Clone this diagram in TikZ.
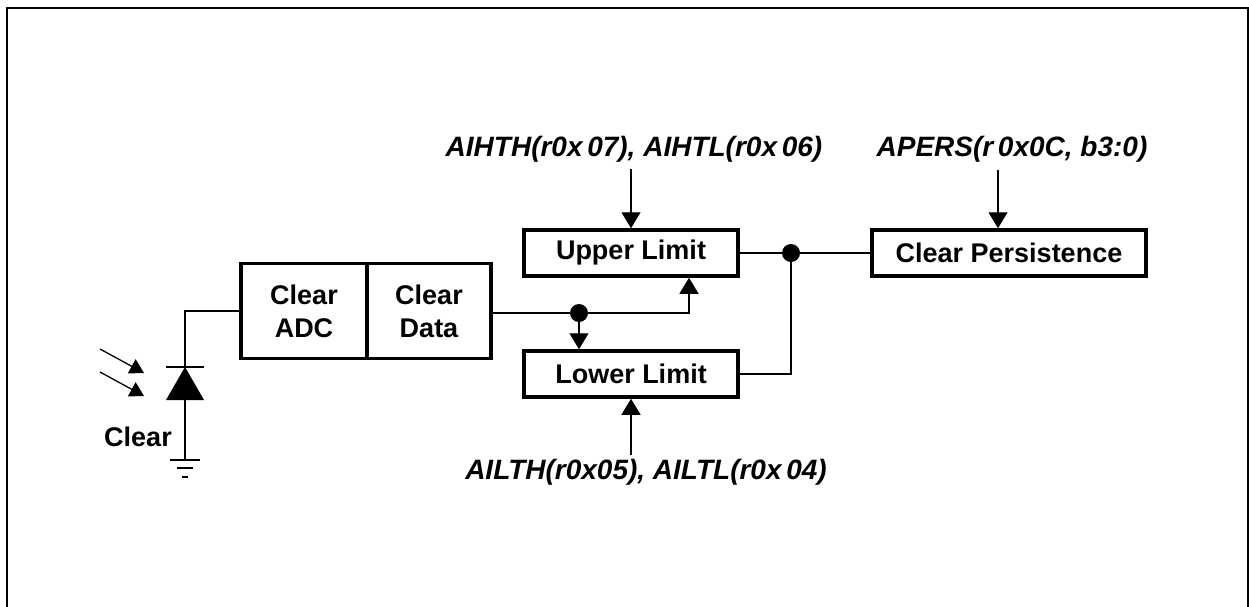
\documentclass[tikz,border=0pt]{standalone}
\usepackage{fontspec}
\setmainfont{Liberation Sans}
\usetikzlibrary{arrows.meta}
\tikzset{
  blk/.style={draw, line width=3.5pt, minimum height=46pt, inner sep=0pt,
    font=\bfseries\fontsize{27}{33}\selectfont, align=center},
  lbl/.style={inner sep=0pt, font=\bfseries\itshape\fontsize{28}{33}\selectfont},
  wire/.style={line width=1.3pt},
  arr/.style={wire, -{Triangle[length=16pt,width=19pt]}},
  lightarr/.style={wire, -{Triangle[length=14pt,width=16pt]}},
  dot/.style={circle, fill, inner sep=0pt, minimum size=18pt},
}
\begin{document}
\begin{tikzpicture}[x=1pt, y=-1pt]
  \useasboundingbox (0,0) rectangle (1249,607);
  % Frame
  \draw[line width=2pt] (6.5,607) -- (6.5,8) -- (1247.5,8) -- (1247.5,607);

  % Nodes with manual coordinates
  \node[blk, minimum width=126pt, minimum height=95pt] (adc) at (304,311) {Clear\\ADC};
  \node[blk, minimum width=124pt, minimum height=95pt] (data) at (429,311) {Clear\\Data};
  \node[blk, minimum width=214pt] (upper) at (631,253) {Upper Limit};
  \node[blk, minimum width=214pt] (lower) at (631,374) {Lower Limit};
  \node[blk, minimum width=274pt] (pers) at (1009,253) {Clear Persistence};
  \node[lbl] (hth) at (634,149) {AIHTH(r0x\,07), AIHTL(r0x\,06)};
  \node[lbl] (lth) at (646,472) {AILTH(r0x05), AILTL(r0x\,04)};
  \node[lbl] (apers) at (1012,149) {APERS(r\,0x0C, b3:0)};
  \node[inner sep=0pt, font=\bfseries\fontsize{27}{33}\selectfont] (pdlbl) at (138,437) {Clear};
  \node[dot] (split) at (579,313) {};
  \node[dot] (join) at (791,253) {};

  % Photodiode
  \coordinate (pd) at (185,367);
  \coordinate (gnd) at (185,460);
  \fill (pd) -- ++(-19,33) -- ++(38,0) -- cycle;
  \draw[line width=2pt] ([xshift=-19pt]pd) -- ([xshift=19pt]pd);
  \draw[wire] (pd) |- (adc.west);
  \draw[wire] ([yshift=-33pt]pd) -- (gnd);
  \draw[line width=2.5pt] ([yshift=-33pt]pd) -- ([yshift=-48pt]pd);
  \draw[wire] ([xshift=-15pt]gnd) -- ([xshift=15pt]gnd);
  \draw[wire] ([xshift=-8pt,yshift=-8pt]gnd) -- ([xshift=8pt,yshift=-8pt]gnd);
  \draw[wire] ([xshift=-3pt,yshift=-17pt]gnd) -- ([xshift=3pt,yshift=-17pt]gnd);
  \coordinate (ray1) at (100,349);
  \coordinate (ray2) at (100,372);
  \draw[lightarr] (ray1) -- ++(44,24);
  \draw[lightarr] (ray2) -- ++(44,24);

  % Edges
  \draw[wire] (data.east |- split) -- (split.center);
  \draw[arr] (split.center) -| ([xshift=58pt]upper.south);
  \draw[arr] (split.center) -- (split |- lower.north);
  \draw[arr, shorten <=7pt] (hth.south -| upper.north) -- (upper.north);
  \draw[arr, shorten <=4pt] (lth.north -| lower.south) -- (lower.south);
  \draw[arr, shorten <=8pt] ([xshift=-11pt]pers.north |- apers.south) -- ([xshift=-11pt]pers.north);
  \draw[wire] (upper.east) -- (join.center) -- (pers.west);
  \draw[wire] (lower.east) -| (join.center);
\end{tikzpicture}
\end{document}
